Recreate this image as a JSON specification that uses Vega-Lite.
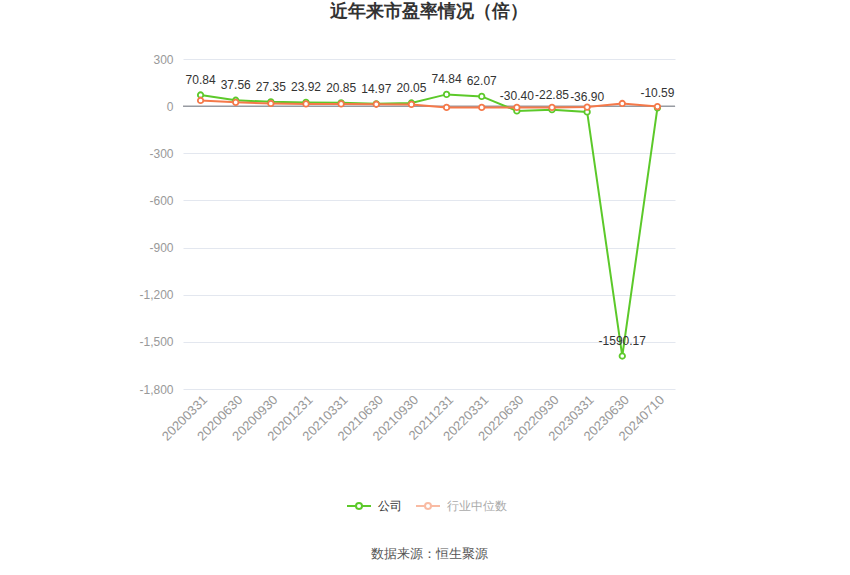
{
  "$schema": "https://vega.github.io/schema/vega-lite/v6.json",
  "autosize": "none",
  "width": 492,
  "height": 330,
  "padding": {"left": 183, "top": 59, "right": 175, "bottom": 186},
  "background": "white",
  "view": {"stroke": null},
  "title": {
    "text": "近年来市盈率情况（倍）",
    "anchor": "middle",
    "fontSize": 18,
    "fontWeight": "bold",
    "color": "#333333",
    "offset": 32
  },
  "data": {
    "values": [
      {"date": "20200331", "series": "公司", "value": 70.84},
      {"date": "20200630", "series": "公司", "value": 37.56},
      {"date": "20200930", "series": "公司", "value": 27.35},
      {"date": "20201231", "series": "公司", "value": 23.92},
      {"date": "20210331", "series": "公司", "value": 20.85},
      {"date": "20210630", "series": "公司", "value": 14.97},
      {"date": "20210930", "series": "公司", "value": 20.05},
      {"date": "20211231", "series": "公司", "value": 74.84},
      {"date": "20220331", "series": "公司", "value": 62.07},
      {"date": "20220630", "series": "公司", "value": -30.40},
      {"date": "20220930", "series": "公司", "value": -22.85},
      {"date": "20230331", "series": "公司", "value": -36.90},
      {"date": "20230630", "series": "公司", "value": -1590.17},
      {"date": "20240710", "series": "公司", "value": -10.59},
      {"date": "20200331", "series": "行业中位数", "value": 36},
      {"date": "20200630", "series": "行业中位数", "value": 24},
      {"date": "20200930", "series": "行业中位数", "value": 17},
      {"date": "20201231", "series": "行业中位数", "value": 14},
      {"date": "20210331", "series": "行业中位数", "value": 14},
      {"date": "20210630", "series": "行业中位数", "value": 12},
      {"date": "20210930", "series": "行业中位数", "value": 11},
      {"date": "20211231", "series": "行业中位数", "value": -8},
      {"date": "20220331", "series": "行业中位数", "value": -8},
      {"date": "20220630", "series": "行业中位数", "value": -8},
      {"date": "20220930", "series": "行业中位数", "value": -8},
      {"date": "20230331", "series": "行业中位数", "value": -6},
      {"date": "20230630", "series": "行业中位数", "value": 17},
      {"date": "20240710", "series": "行业中位数", "value": -3}
    ]
  },
  "encoding": {
    "x": {
      "field": "date",
      "type": "ordinal",
      "sort": null,
      "scale": {"type": "point", "padding": 0.5},
      "axis": {
        "title": "数据来源：恒生聚源",
        "titleFontSize": 13,
        "titleFontWeight": "normal",
        "titleColor": "#555555",
        "titlePadding": 104,
        "labelAngle": -45,
        "labelColor": "#999999",
        "labelFontSize": 13,
        "labelPadding": 4,
        "domain": false,
        "ticks": false,
        "grid": false
      }
    },
    "y": {
      "field": "value",
      "type": "quantitative",
      "scale": {"domain": [-1800, 300], "nice": false, "zero": false},
      "axis": {
        "title": null,
        "values": [-1800, -1500, -1200, -900, -600, -300, 0, 300],
        "labelExpr": "replace(format(datum.value, ',.0f'), '\u2212', '-')",
        "labelColor": "#999999",
        "labelFontSize": 12,
        "labelPadding": 10,
        "domain": false,
        "ticks": false,
        "gridColor": "#e3e7ef"
      }
    }
  },
  "layer": [
    {
      "data": {"values": [{"v": 0}]},
      "mark": {"type": "rule", "color": "#6e7079", "strokeWidth": 1},
      "encoding": {"y": {"field": "v", "type": "quantitative"}, "x": null}
    },
    {
      "mark": {"type": "line", "strokeWidth": 2},
      "encoding": {
        "color": {
          "field": "series",
          "type": "nominal",
          "sort": ["公司", "行业中位数"],
          "scale": {"domain": ["公司", "行业中位数"], "range": ["#5cc92a", "#f5794a"]},
          "legend": {
            "title": null,
            "orient": "none",
            "legendX": 163,
            "legendY": 434,
            "direction": "horizontal",
            "symbolType": "M-1,0L-0.25,0M0.25,0L1,0M0.25,0A0.25,0.25,0,1,1,-0.25,0A0.25,0.25,0,1,1,0.25,0",
            "symbolSize": 576,
            "symbolStrokeWidth": 2,
            "symbolFillColor": "white",
            "labelFontSize": 12,
            "labelColor": "#333333",
            "columnPadding": 10,
            "labelOffset": 6,
            "encode": {
              "symbols": {"update": {"opacity": {"signal": "datum.label === '公司' ? 1 : 0.5"}, "fill": {"value": "white"}}},
              "labels": {"update": {"fill": {"signal": "datum.label === '公司' ? '#333333' : '#aaaaaa'"}}}
            }
          }
        }
      }
    },
    {
      "mark": {"type": "point", "filled": true, "fill": "white", "size": 30, "strokeWidth": 1.8, "opacity": 1},
      "encoding": {
        "stroke": {
          "field": "series",
          "type": "nominal",
          "scale": {"domain": ["公司", "行业中位数"], "range": ["#5cc92a", "#f5794a"]},
          "legend": null
        }
      }
    },
    {
      "transform": [
        {"filter": "datum.series === '公司'"},
        {"calculate": "replace(format(datum.value, '.2f'), '\u2212', '-')", "as": "label"}
      ],
      "mark": {"type": "text", "dy": -15, "fontSize": 12, "color": "#333333"},
      "encoding": {
        "text": {"field": "label", "type": "nominal"}
      }
    }
  ]
}
